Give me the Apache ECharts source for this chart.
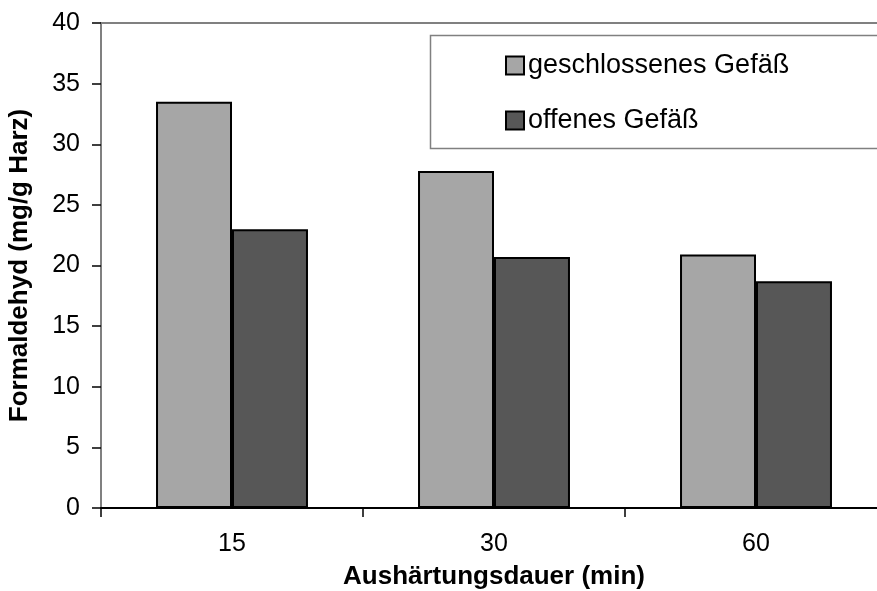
<!DOCTYPE html>
<html>
<head>
<meta charset="utf-8">
<script src="https://cdn.jsdelivr.net/npm/echarts@6/dist/echarts.min.js"></script>
<style>
  html, body { margin: 0; padding: 0; background: #fff; }
  #chart { width: 877px; height: 591px; }
</style>
</head>
<body>
<div id="chart"></div>
<script>
// Curing time categories (minutes)
const categories = ['15', '30', '60'];
// Formaldehyde content, mg per g resin
const closedVessel = [33.5, 27.8, 20.9];
const openVessel = [23.0, 20.7, 18.7];
const seriesNames = ['geschlossenes Gefäß', 'offenes Gefäß'];
const yTicks = { min: 0, max: 40, interval: 5 };

const FONT = '"Liberation Sans", Arial, sans-serif';

const chart = echarts.init(document.getElementById('chart'), null, { renderer: 'canvas' });

chart.setOption({
  backgroundColor: '#ffffff',
  animation: false,
  grid: {
    left: 101,
    top: 23,
    width: 786,
    height: 485,
    outerBoundsMode: 'none',
    containLabel: false,
    show: true,
    borderColor: '#808080',
    borderWidth: 2,
    backgroundColor: 'transparent'
  },
  graphic: [
    {
      type: 'rect',
      shape: { x: 430.5, y: 35.5, width: 460, height: 113 },
      style: { fill: '#ffffff', stroke: '#808080', lineWidth: 1.5 },
      z: 10
    }
  ],
  legend: {
    orient: 'vertical',
    left: 505,
    top: 52,
    padding: 0,
    itemWidth: 18,
    itemHeight: 18,
    itemGap: 28,
    icon: 'rect',
    textStyle: { fontFamily: FONT, fontSize: 27, color: '#000', padding: [0, 0, 0, -1] },
    data: seriesNames,
    z: 20
  },
  xAxis: {
    type: 'category',
    data: categories,
    axisLine: { lineStyle: { color: '#000', width: 2 } },
    axisTick: { show: true, length: 9, lineStyle: { color: '#000', width: 1.5 } },
    axisLabel: { fontFamily: FONT, fontSize: 25, color: '#000', margin: 24 },
    name: 'Aushärtungsdauer (min)',
    nameLocation: 'middle',
    nameGap: 56,
    nameTextStyle: { fontFamily: FONT, fontSize: 26, fontWeight: 'bold', color: '#000' },
    splitLine: { show: false }
  },
  yAxis: {
    type: 'value',
    min: yTicks.min,
    max: yTicks.max,
    interval: yTicks.interval,
    axisLine: { show: true, lineStyle: { color: '#808080', width: 2 } },
    axisTick: { show: true, length: 9, lineStyle: { color: '#000', width: 1.5 } },
    axisLabel: { fontFamily: FONT, fontSize: 25, color: '#000', margin: 21 },
    splitLine: { show: false },
    name: 'Formaldehyd (mg/g Harz)',
    nameLocation: 'middle',
    nameGap: 68,
    nameRotate: 90,
    nameTextStyle: { fontFamily: FONT, fontSize: 26, fontWeight: 'bold', color: '#000' }
  },
  series: [
    {
      name: seriesNames[0],
      type: 'bar',
      data: closedVessel,
      barGap: '0%',
      barCategoryGap: '42%',
      itemStyle: { color: '#a6a6a6', borderColor: '#000', borderWidth: 2 }
    },
    {
      name: seriesNames[1],
      type: 'bar',
      data: openVessel,
      barGap: '0%',
      barCategoryGap: '42%',
      itemStyle: { color: '#575757', borderColor: '#000', borderWidth: 2 }
    }
  ]
});
</script>
</body>
</html>
